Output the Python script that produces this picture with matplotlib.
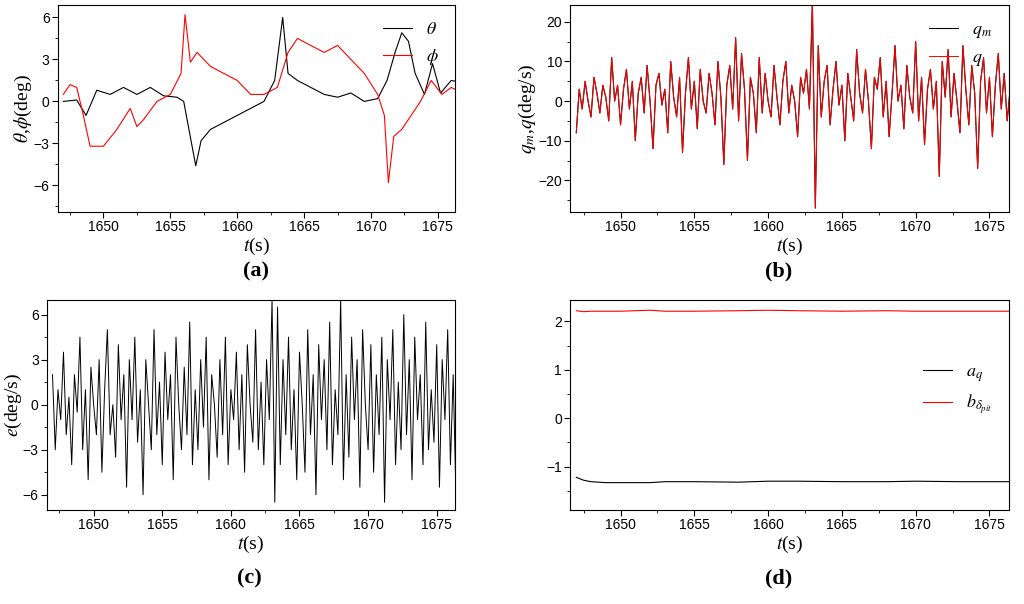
import numpy as np
import matplotlib
matplotlib.use("Agg")
import matplotlib.pyplot as plt
from matplotlib.ticker import AutoMinorLocator

plt.rcParams['font.family'] = 'Liberation Sans'
plt.rcParams['mathtext.fontset'] = 'stix'

# (a) attitude angles
t_theta = [1647, 1648, 1648.7, 1649.5, 1650.5, 1651.5, 1652.5, 1653.5, 1654.5, 1655.5, 1656, 1656.9, 1657.3,
           1658, 1659, 1660, 1661, 1662, 1662.8, 1663.4, 1663.8, 1664.5, 1665.5, 1666.5, 1667.5, 1668.5,
           1669.5, 1670.5, 1671.2, 1671.8, 1672.3, 1672.8, 1673.3, 1674, 1674.6, 1675.2, 1676, 1677]
theta = [0, 0.1, -1, 0.8, 0.5, 1, 0.5, 1, 0.4, 0.3, 0, -4.6, -2.8, -2, -1.5, -1, -0.5, 0, 1.5, 6, 2, 1.5,
         1, 0.5, 0.3, 0.6, 0, 0.2, 1.5, 3.5, 4.9, 4.3, 2, 0.5, 2.7, 0.6, 1.5, 1.3]
t_phi = [1647, 1647.5, 1648, 1648.5, 1649, 1650, 1651, 1652, 1652.5, 1653, 1654, 1655, 1655.8, 1656.1,
         1656.5, 1657, 1658, 1659, 1660, 1661, 1662, 1663, 1663.8, 1664.5, 1665.5, 1666.5, 1667.5, 1668.5,
         1669.5, 1670.5, 1671, 1671.3, 1671.7, 1672.3, 1673, 1673.7, 1674.5, 1675.3, 1676, 1677]
phi = [0.5, 1.2, 1, -1, -3.2, -3.2, -2, -0.5, -1.8, -1.3, 0, 0.5, 2, 6.2, 2.8, 3.5, 2.5, 2, 1.5, 0.5, 0.5,
       1, 3.5, 4.5, 4, 3.5, 4, 3, 2, 0.5, -1, -5.8, -2.5, -2, -1, 0, 1.5, 0.5, 1, 0.5]

# (b) pitch rate, 0.2 s samples
q = [-8, 3, -2, 5, 0, -4, 6, 2, -3, 4,
     1, -5, 11, 0, 4, -6, 3, 8, -2, 5,
     -10, 2, 6, -3, 9, 0, -12, 4, 7, -1,
     3, -8, 10, 1, -4, 6, -13, 2, 11, -2,
     5, -7, 8, 0, -3, 7, 2, -6, 10, 1,
     -16, 4, 9, -2, 16, -5, 12, 3, -15, 6,
     2, -8, 11, -3, 7, 0, -4, 9, 1, -6,
     5, 10, -3, 4, 0, -9, 6, 2, 8, -2,
     25, -27, 14, -4, 5, 9, -6, 3, 10, -1,
     4, -10, 7, 1, -5, 13, 2, -3, 8, 0,
     -12, 6, 3, 11, -4, 5, -9, 2, 14, 0,
     4, -7, 9, 1, -3, 15, -5, 6, -11, 3,
     8, -2, 5, -19, 10, 1, 13, -4, 7, 0,
     -8, 14, 3, -6, 9, 2, -17, 5, 11, -3,
     6, -9, 4, 12, -2, 7, -5, 3, 9, 1, 2]
q_m = list(q)

# (c) error, 0.2 s samples
e = [2, -3, 1, -1, 3.5, -2, 0.5, -4, 2, -0.5,
     4.5, -3, 1, -5, 2.5, 0, -2, 3, -4.5, 1,
     5, -2, 0, -3.5, 4, -1, 2, -5.5, 3, -1,
     4.5, -2.5, 1, -6, 3, 0, -3, 5, -2, 1.5,
     -4, 3.5, -1, 2, -5, 4.5, 0, -3, 2.5, -2,
     5.5, -4, 1, -3, 3, -1.5, 4.5, -5, 2, 0,
     -3.5, 3, -2, 4.5, -4, 1, -1, 3.5, -3, 2,
     -4.5, 4, 0, -2.5, 5, -3, 1.5, -4, 3, -1,
     7, -6.5, 6.5, -4, 3, -2, 4.5, -3, 1, -5,
     3.5, 0, -4.5, 5, -2, 2, -6, 4, -1, 3,
     -3, 5.5, -4, 1, -2, 7, -5, 2, -3.5, 4.5,
     -1, 3, -5.5, 5, 0, -3, 4, -4.5, 2, -2,
     4.5, -6.5, 3, -1, 5, -4, 1.5, -3, 6, -2,
     3, -5, 4.5, -1, 2, -4, 5.5, -3, 1, -2.5,
     4, -5.5, 3, -1, 5, -4, 2, -6, 4.5, -2, 1]

# (d) parameter estimates
t_par = [1647, 1647.5, 1648, 1649, 1650, 1652, 1653, 1655, 1658, 1660, 1662, 1665, 1668, 1670, 1673, 1677]
a_q = [-1.22, -1.28, -1.31, -1.33, -1.33, -1.33, -1.31, -1.31, -1.32, -1.30, -1.30, -1.31, -1.31, -1.30, -1.31, -1.31]
b_pit = [2.22, 2.20, 2.21, 2.21, 2.21, 2.23, 2.21, 2.21, 2.22, 2.23, 2.22, 2.21, 2.22, 2.21, 2.21, 2.21]

t_q = np.linspace(1647, 1677, len(q))
t_e = np.linspace(1647, 1677, len(e))

fig = plt.figure(figsize=(10.24, 6.04), dpi=100)
ax_a = fig.add_axes([0.0566, 0.649, 0.388, 0.343])
ax_b = fig.add_axes([0.557, 0.649, 0.428, 0.343])
ax_c = fig.add_axes([0.0459, 0.156, 0.398, 0.348])
ax_d = fig.add_axes([0.557, 0.156, 0.428, 0.348])

serif = {'family': 'Liberation Serif', 'size': 14}

ax_a.plot(t_theta, theta, color='black', lw=0.8, label=r'$\theta$')
ax_a.plot(t_phi, phi, color='red', lw=0.8, label=r'$\phi$')
ax_a.set_ylim(-7.9, 6.9)
ax_a.set_yticks([-6, -3, 0, 3, 6])
ax_a.set_ylabel(r'$\theta$,$\phi$(deg)', fontdict=serif, labelpad=0)
ax_a.legend(loc='upper right', frameon=False, fontsize=13, handlelength=1.6)

ax_b.plot(t_q, q_m, color='black', lw=0.8, label=r'$q_m$')
ax_b.plot(t_q, q, color='red', lw=0.7, label=r'$q$')
ax_b.set_ylim(-28, 24.3)
ax_b.set_yticks([-20, -10, 0, 10, 20])
ax_b.set_ylabel(r'$q_m$,$q$(deg/s)', fontdict=serif, labelpad=0)
ax_b.legend(loc='upper right', frameon=False, fontsize=13, handlelength=1.6)

ax_c.plot(t_e, e, color='black', lw=0.7)
ax_c.set_ylim(-7, 7)
ax_c.set_yticks([-6, -3, 0, 3, 6])
ax_c.set_ylabel(r'$e$(deg/s)', fontdict=serif, labelpad=-1)

ax_d.plot(t_par, a_q, color='black', lw=0.8, label=r'$a_q$')
ax_d.plot(t_par, b_pit, color='red', lw=0.8, label=r'$b_{\delta_{pit}}$')
ax_d.set_ylim(-1.89, 2.45)
ax_d.set_yticks([-1, 0, 1, 2])
ax_d.legend(loc='center right', bbox_to_anchor=(1.0, 0.57), frameon=False, fontsize=13, handlelength=1.6)

for ax in (ax_a, ax_b, ax_c, ax_d):
    ax.set_xlim(1646.6, 1676.3)
    ax.set_xticks([1650, 1655, 1660, 1665, 1670, 1675])
    ax.xaxis.set_minor_locator(AutoMinorLocator(2))
    ax.yaxis.set_minor_locator(AutoMinorLocator(2))
    ax.tick_params(which='both', direction='out', labelsize=10, top=False, right=False, pad=2)
    ax.tick_params(which='major', length=4)
    ax.tick_params(which='minor', length=2)
    ax.set_xlabel(r'$t$(s)', fontdict=serif, labelpad=1)

for x, y, s in [(0.25, 0.551, '(a)'), (0.76, 0.551, '(b)'), (0.244, 0.043, '(c)'), (0.76, 0.043, '(d)')]:
    fig.text(x, y, s, ha='center', va='center', family='Liberation Serif', fontsize=16, fontweight='bold')

fig.savefig('out.png', dpi=100)
